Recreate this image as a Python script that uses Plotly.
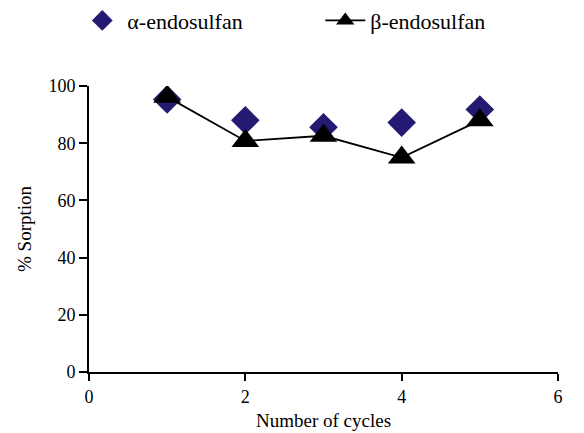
import plotly.graph_objects as go

cycles = [1, 2, 3, 4, 5]
alpha_vals = [95.3, 88.0, 85.6, 87.2, 91.8]
beta_vals = [96.2, 80.8, 82.6, 75.0, 88.0]

SERIF = "Times New Roman, Liberation Serif, serif"

fig = go.Figure()
fig.add_trace(go.Scatter(
    x=cycles, y=alpha_vals, mode="markers", name="α-endosulfan",
    marker=dict(symbol="diamond", size=22, color="#251a72"),
))
fig.add_trace(go.Scatter(
    x=cycles, y=beta_vals, mode="lines+markers", name="β-endosulfan",
    line=dict(color="black", width=1.8),
    marker=dict(symbol="triangle-up", size=24, color="black"),
))

fig.update_layout(
    width=584, height=433,
    margin=dict(l=89, r=26, t=86, b=61, autoexpand=False),
    paper_bgcolor="white", plot_bgcolor="white",
    font=dict(family=SERIF, size=18, color="black"),
    showlegend=True,
    legend=dict(orientation="h", x=-0.025, y=1.302, xanchor="left", yanchor="top",
                font=dict(family=SERIF, size=22, color="black"),
                itemwidth=40, entrywidth=188, tracegroupgap=0),
    xaxis=dict(range=[0, 6], tickvals=[0, 2, 4, 6], showgrid=False, zeroline=False,
               showline=True, linecolor="black", linewidth=2, ticks="outside",
               ticklen=7, tickwidth=2, tickcolor="black",
               tickfont=dict(family=SERIF, size=18),
               title=dict(text="Number of cycles", standoff=8,
                          font=dict(family=SERIF, size=19))),
    yaxis=dict(range=[0, 100], tickvals=[0, 20, 40, 60, 80, 100], showgrid=False, zeroline=False,
               showline=True, linecolor="black", linewidth=2, ticks="outside",
               ticklen=8, tickwidth=2, tickcolor="black",
               tickfont=dict(family=SERIF, size=18),
               title=dict(text="% Sorption", standoff=12,
                          font=dict(family=SERIF, size=19))),
)
fig.write_html("out.html")
